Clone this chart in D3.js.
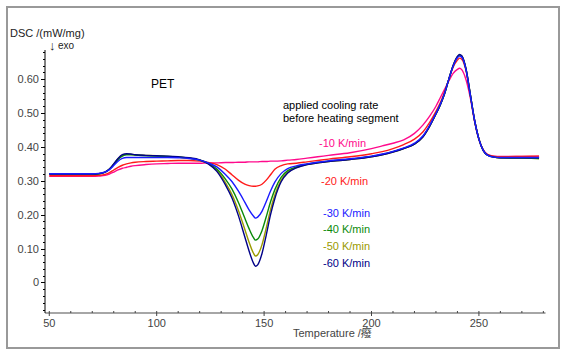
<!DOCTYPE html>
<html><head><meta charset="utf-8">
<script src="https://cdn.jsdelivr.net/npm/d3@7"></script>
<style>
body{margin:0;background:#fff;}
svg{display:block;font-family:"Liberation Sans",Arial,sans-serif;}
</style></head>
<body><svg id="c" width="569" height="358"></svg>
<script>
const temps = [50,55,60,65,70,73,76,78,80,82,84,86,88,90,95,100,105,110,115,120,124,128,132,135,138,141,143,145,146,147,149,151,153,155,158,161,165,170,175,180,190,200,205,210,215,220,224,227,230,232,234,236,238,240,241,242,244,246,248,250,252,254,257,260,270,278];
const dsc10 = [.313,.313,.313,.313,.313,.314,.316,.320,.326,.332,.337,.340,.343,.345,.348,.350,.351,.352,.352,.352,.353,.353,.354,.354,.355,.355,.356,.356,.356,.356,.357,.357,.358,.358,.359,.361,.363,.367,.371,.375,.383,.395,.403,.411,.421,.440,.465,.490,.520,.545,.570,.595,.617,.629,.632,.628,.598,.545,.475,.422,.392,.378,.373,.372,.372,.373];
const dsc20 = [.315,.315,.315,.315,.315,.316,.319,.324,.332,.340,.346,.350,.353,.355,.357,.358,.359,.360,.360,.358,.354,.348,.334,.318,.302,.290,.286,.284,.284,.285,.290,.302,.318,.334,.345,.350,.352,.356,.360,.364,.371,.380,.386,.395,.407,.423,.445,.472,.505,.530,.562,.600,.635,.656,.662,.659,.625,.552,.477,.423,.390,.377,.372,.371,.372,.373];
const dsc30 = [.321,.321,.321,.321,.321,.322,.326,.333,.345,.358,.366,.369,.369,.369,.369,.369,.369,.368,.366,.361,.353,.341,.319,.298,.270,.237,.214,.196,.190,.193,.210,.239,.270,.296,.322,.336,.344,.350,.355,.359,.365,.373,.379,.387,.397,.411,.433,.463,.499,.525,.558,.600,.638,.663,.668,.665,.628,.553,.478,.423,.390,.376,.370,.369,.369,.369];
const dsc40 = [.320,.320,.320,.320,.320,.321,.326,.334,.348,.363,.373,.377,.377,.376,.374,.373,.372,.370,.367,.361,.352,.335,.305,.276,.237,.190,.159,.133,.125,.128,.153,.194,.238,.274,.311,.330,.341,.349,.354,.358,.364,.372,.378,.386,.396,.409,.431,.461,.498,.524,.557,.600,.639,.665,.670,.667,.629,.554,.478,.423,.390,.376,.370,.368,.367,.366];
const dsc50 = [.320,.320,.320,.320,.320,.321,.326,.335,.349,.365,.375,.378,.378,.376,.375,.374,.372,.370,.367,.361,.351,.331,.295,.260,.213,.157,.119,.087,.078,.082,.111,.161,.215,.258,.303,.326,.339,.348,.353,.357,.363,.371,.377,.385,.395,.408,.430,.460,.497,.524,.557,.600,.640,.666,.671,.668,.630,.555,.478,.423,.390,.376,.370,.368,.367,.366];
const dsc60 = [.320,.320,.320,.320,.320,.321,.326,.335,.350,.366,.377,.380,.379,.377,.375,.374,.373,.371,.368,.362,.350,.328,.288,.250,.198,.135,.093,.058,.048,.052,.085,.140,.200,.248,.298,.323,.338,.348,.353,.357,.363,.371,.377,.385,.395,.408,.430,.460,.497,.524,.557,.600,.640,.667,.673,.669,.630,.555,.478,.423,.390,.376,.370,.368,.368,.368];
const seriesNames = ["-10 K/min","-20 K/min","-50 K/min","-40 K/min","-60 K/min","-30 K/min"];
const seriesData = [dsc10, dsc20, dsc50, dsc40, dsc60, dsc30];
const seriesColors = ["#ff0a8c","#ff1a1a","#9a9a00","#0a8a0a","#000088","#1a1aff"];
const legendNames = ["-10 K/min","-20 K/min","-30 K/min","-40 K/min","-50 K/min","-60 K/min"];
const legendColors = ["#ff0a8c","#ff1a1a","#1a1aff","#0a8a0a","#9a9a00","#000088"];
const legendY = [143,181,213,229,246,263];
const legendX = [319,321,323,323,323,323];
const xMajor = [50,100,150,200,250];
const yMajor = [0,0.1,0.2,0.3,0.4,0.5,0.6];

const svg = d3.select("#c");
svg.append("rect").attr("x",7).attr("y",7).attr("width",552).attr("height",341)
  .attr("fill","#fff").attr("stroke","#999").attr("stroke-width",2);

const x = d3.scaleLinear().domain([48,281]).range([45,545.5]);
const y = d3.scaleLinear().domain([-0.09,0.686]).range([313,50]);

// x axis
const xMinor = d3.range(50,281,10);
const gx = svg.append("g").attr("transform","translate(0,313)");
gx.append("line").attr("x1",45).attr("x2",545.5).attr("stroke","#888").attr("stroke-width",1.5);
gx.selectAll(".mn").data(xMinor).enter().append("line")
  .attr("x1",d=>x(d)).attr("x2",d=>x(d)).attr("y1",-2).attr("y2",0).attr("stroke","#444");
gx.selectAll(".mj").data(xMajor).enter().append("line")
  .attr("x1",d=>x(d)).attr("x2",d=>x(d)).attr("y1",0).attr("y2",3).attr("stroke","#444");
gx.selectAll("text").data(xMajor).enter().append("text")
  .attr("x",d=>x(d)).attr("y",14).attr("text-anchor","middle")
  .attr("font-size",11).attr("fill","#444").text(d=>d);

// y axis
const yMinorT = d3.range(-0.08,0.69,0.02);
const gy = svg.append("g");
gy.append("line").attr("x1",45).attr("x2",45).attr("y1",50).attr("y2",313).attr("stroke","#000").attr("stroke-width",1);
gy.selectAll(".mn").data(yMinorT).enter().append("line")
  .attr("x1",43).attr("x2",45).attr("y1",d=>Math.round(y(d))+0.5).attr("y2",d=>Math.round(y(d))+0.5).attr("stroke","#000");
gy.selectAll(".mj").data(yMajor).enter().append("line")
  .attr("x1",41).attr("x2",45).attr("y1",d=>Math.round(y(d))+0.5).attr("y2",d=>Math.round(y(d))+0.5).attr("stroke","#000");
gy.selectAll("text").data(yMajor).enter().append("text")
  .attr("x",39).attr("y",d=>y(d)+4).attr("text-anchor","end")
  .attr("font-size",11).attr("fill","#444").text(d=>d===0?"0":d3.format(".2f")(d));

// curves
const line = d3.line().x((d,i)=>x(temps[i])).y(d=>y(d)).curve(d3.curveMonotoneX);
svg.append("g").selectAll("path").data(seriesData).enter().append("path")
  .attr("d",d=>line(d)).attr("fill","none")
  .attr("stroke",(d,i)=>seriesColors[i]).attr("stroke-width",1.4);

// texts
svg.append("text").attr("x",10).attr("y",37).attr("font-size",11).attr("fill","#222").text("DSC /(mW/mg)");
svg.append("text").attr("x",49).attr("y",50).attr("font-size",13).attr("fill","#222").text("↓");
svg.append("text").attr("x",58).attr("y",49).attr("font-size",10).attr("fill","#222").text("exo");
svg.append("text").attr("x",151).attr("y",88).attr("font-size",12).attr("fill","#000").text("PET");
svg.append("text").attr("x",283).attr("y",109).attr("font-size",11).attr("fill","#000").text("applied cooling rate");
svg.append("text").attr("x",283).attr("y",122).attr("font-size",11).attr("fill","#000").text("before heating segment");
svg.append("g").selectAll("text").data(legendNames).enter().append("text")
  .attr("x",(d,i)=>legendX[i]).attr("y",(d,i)=>legendY[i]+4)
  .attr("font-size",11).attr("fill",(d,i)=>legendColors[i]).text(d=>d);
svg.append("text").attr("x",293).attr("y",337).attr("font-size",11).attr("fill","#444")
  .attr("font-family","'Liberation Sans','Noto Sans CJK SC',sans-serif").text("Temperature /癈");
</script></body></html>
